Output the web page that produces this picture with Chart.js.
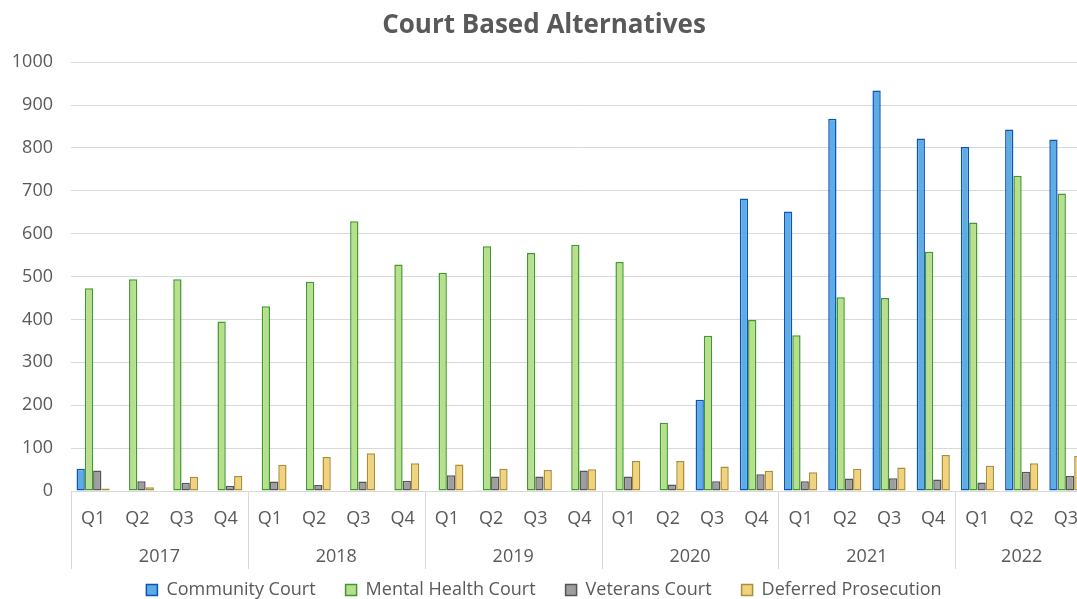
<!DOCTYPE html>
<html>
<head>
<meta charset="utf-8">
<script src="https://cdn.jsdelivr.net/npm/chart.js@4/dist/chart.umd.min.js"></script>
<style>
  html, body { margin: 0; padding: 0; background: #ffffff; overflow: hidden; }
  #wrap { width: 1077px; height: 599px; overflow: hidden; position: relative; }
  canvas { display: block; }
</style>
</head>
<body>
<div id="wrap"><canvas id="c" width="1106" height="599" style="width:1106px;height:599px"></canvas></div>
<script>
const quarters = ['Q1','Q2','Q3','Q4','Q1','Q2','Q3','Q4','Q1','Q2','Q3','Q4','Q1','Q2','Q3','Q4','Q1','Q2','Q3','Q4','Q1','Q2','Q3'];
const years = ['2017','2018','2019','2020','2021','2022'];
const quartersPerYear = [4,4,4,4,4,3];
const yTicks = [0,100,200,300,400,500,600,700,800,900,1000];

const communityCourt = [52,0,0,0, 0,0,0,0, 0,2,0,0, 0,0,213,682, 652,868,934,822, 802,843,820];
const mentalHealthCourt = [473,494,494,395, 431,488,629,528, 509,571,555,574, 534,159,362,399, 363,452,450,558, 626,735,694];
const veteransCourt = [48,23,19,12, 22,14,22,24, 37,34,34,48, 34,15,23,39, 23,29,30,27, 20,45,35];
const deferredProsecution = [6,9,33,35, 61,79,88,65, 62,52,49,51, 70,70,57,47, 44,52,55,84, 59,65,82];

const TEXT = '#595959';
const GRID = '#d9d9d9';
const FONT = "'Open Sans', 'Liberation Sans', sans-serif";

const yearGroups = {
  id: 'yearGroups',
  afterDraw(chart) {
    const x = chart.scales.x;
    const ctx = chart.ctx;
    const n = quarters.length;
    const w = (x.right - x.left) / n;
    const top = x.top;
    const bottom = x.top + 78;
    ctx.save();
    ctx.strokeStyle = GRID;
    ctx.lineWidth = 1;
    ctx.fillStyle = TEXT;
    ctx.font = "18px " + FONT;
    ctx.textAlign = 'center';
    ctx.textBaseline = 'middle';
    let idx = 0;
    for (let g = 0; g < years.length; g++) {
      const l = x.getPixelForValue(idx) - w / 2;
      const r = x.getPixelForValue(idx + quartersPerYear[g] - 1) + w / 2;
      ctx.beginPath();
      ctx.moveTo(Math.round(l) + 0.5, top);
      ctx.lineTo(Math.round(l) + 0.5, bottom);
      ctx.moveTo(Math.round(r) + 0.5, top);
      ctx.lineTo(Math.round(r) + 0.5, bottom);
      ctx.stroke();
      ctx.fillText(years[g], (l + r) / 2, top + 66);
      idx += quartersPerYear[g];
    }
    ctx.restore();
  }
};

const ds = (label, data, bg, border) => ({
  label, data, backgroundColor: bg, borderColor: border, borderWidth: 1.5,
  categoryPercentage: 0.75, barPercentage: 1.0, borderSkipped: false
});

new Chart(document.getElementById('c'), {
  type: 'bar',
  data: {
    labels: quarters,
    datasets: [
      ds('Community Court', communityCourt, '#5dade2', '#0b52bf'),
      ds('Mental Health Court', mentalHealthCourt, '#b8e08c', '#3f9a2e'),
      ds('Veterans Court', veteransCourt, '#9e9e9e', '#555555'),
      ds('Deferred Prosecution', deferredProsecution, '#f2d27c', '#a8903a')
    ]
  },
  options: {
    responsive: false,
    animation: false,
    devicePixelRatio: 1,
    layout: { padding: { left: 0, right: 18, top: 10, bottom: -10 } },
    plugins: {
      title: {
        display: true,
        text: 'Court Based Alternatives',
        color: TEXT,
        font: { family: FONT, size: 26, weight: 'bold' },
        padding: { top: 0, bottom: 21 }
      },
      legend: {
        position: 'bottom',
        labels: {
          color: TEXT,
          font: { family: FONT, size: 18 },
          boxWidth: 11, boxHeight: 11, padding: 30
        }
      },
      tooltip: { enabled: false }
    },
    scales: {
      x: {
        grid: { display: false, drawTicks: false },
        border: { display: true, color: GRID, width: 1 },
        ticks: { color: TEXT, font: { family: FONT, size: 18 }, padding: 17, maxRotation: 0, autoSkip: false },
        afterFit(s) { s.height = 60; }
      },
      y: {
        min: 0, max: 1000,
        afterBuildTicks(s) { s.ticks = yTicks.map(v => ({ value: v })); },
        grid: { color: GRID, drawTicks: false },
        border: { display: false },
        ticks: { color: TEXT, font: { family: FONT, size: 18 }, padding: 18, callback: v => String(v) },
        afterFit(s) { s.width = 71; }
      }
    }
  },
  plugins: [yearGroups]
});
</script>
</body>
</html>
